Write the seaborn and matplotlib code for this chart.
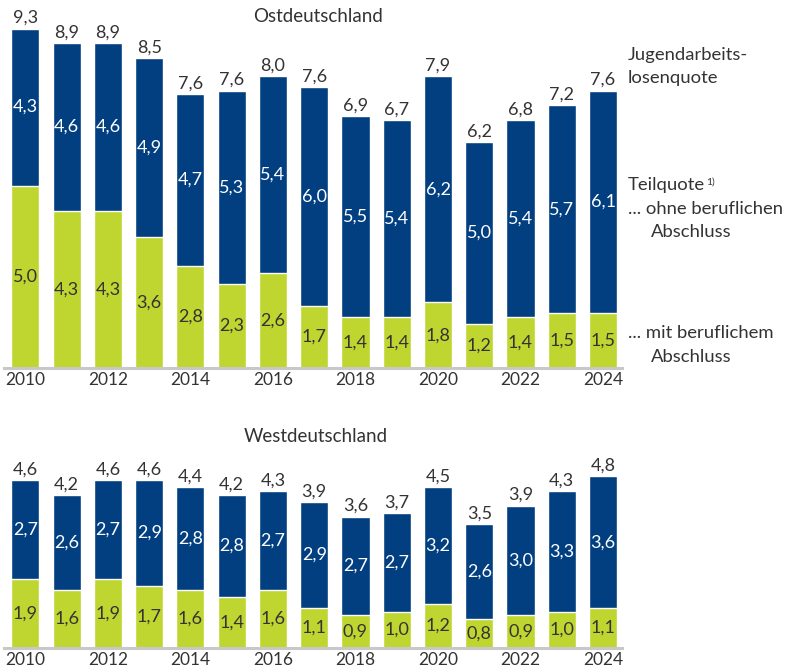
import numpy as np
import pandas as pd
import matplotlib
matplotlib.use("Agg")
import matplotlib.pyplot as plt
import seaborn as sns

# --- DATA ---
years = list(range(2010, 2025))
tick_years = [2010, 2012, 2014, 2016, 2018, 2020, 2022, 2024]

east_mit = [5.0, 4.3, 4.3, 3.6, 2.8, 2.3, 2.6, 1.7, 1.4, 1.4, 1.8, 1.2, 1.4, 1.5, 1.5]
east_ohne = [4.3, 4.6, 4.6, 4.9, 4.7, 5.3, 5.4, 6.0, 5.5, 5.4, 6.2, 5.0, 5.4, 5.7, 6.1]
east_total = [9.3, 8.9, 8.9, 8.5, 7.6, 7.6, 8.0, 7.6, 6.9, 6.7, 7.9, 6.2, 6.8, 7.2, 7.6]

west_mit = [1.9, 1.6, 1.9, 1.7, 1.6, 1.4, 1.6, 1.1, 0.9, 1.0, 1.2, 0.8, 0.9, 1.0, 1.1]
west_ohne = [2.7, 2.6, 2.7, 2.9, 2.8, 2.8, 2.7, 2.9, 2.7, 2.7, 3.2, 2.6, 3.0, 3.3, 3.6]
west_total = [4.6, 4.2, 4.6, 4.6, 4.4, 4.2, 4.3, 3.9, 3.6, 3.7, 4.5, 3.5, 3.9, 4.3, 4.8]

BLUE = "#023f80"
GREEN = "#bfd630"
DARK = "#333333"
GRID = "#c8c8c8"

sns.set_style("white")
plt.rcParams['font.family'] = ['Lato', 'DejaVu Sans']

W, H = 791, 669
fig = plt.figure(figsize=(W / 100, H / 100), dpi=100)

PX = 36.5  # pixels per unit
VAL_FS = 13


def fmt(v):
    return f"{v:.1f}".replace(".", ",")


def draw_panel(ax, mit, ohne, total, ymax):
    df = pd.DataFrame({"Jahr": [str(y) for y in years],
                       "mit": mit, "ohne": ohne, "total": total})
    df["stack"] = df["mit"] + df["ohne"]
    sns.barplot(data=df, x="Jahr", y="stack", color=BLUE, width=0.68,
                saturation=1, ax=ax)
    sns.barplot(data=df, x="Jahr", y="mit", color=GREEN, width=0.68,
                saturation=1, ax=ax)
    for i, row in df.iterrows():
        ax.text(i, row["mit"] / 2, fmt(row["mit"]), ha="center", va="center",
                fontsize=VAL_FS, color=DARK)
        ax.text(i, row["mit"] + row["ohne"] / 2, fmt(row["ohne"]), ha="center",
                va="center", fontsize=VAL_FS, color="white")
        ax.text(i, row["stack"] + 0.07, fmt(row["total"]), ha="center",
                va="bottom", fontsize=VAL_FS, color=DARK)
    ax.set_xlim(-0.52, 14.46)
    ax.set_ylim(0, ymax)
    ax.set_xticks([years.index(y) for y in tick_years])
    ax.set_xticklabels([str(y) for y in tick_years], fontsize=12.5, color=DARK)
    ax.tick_params(axis="x", length=0, pad=3)
    ax.set_yticks([])
    ax.set_xlabel("")
    ax.set_ylabel("")
    for s in ["top", "right", "left"]:
        ax.spines[s].set_visible(False)
    ax.spines["bottom"].set_color(GRID)
    ax.spines["bottom"].set_linewidth(2.2)


# top panel (Ostdeutschland)
left = 4 / W
width = 618 / W
ax1 = fig.add_axes([left, 1 - 368 / H, width, 10 * PX / H])
draw_panel(ax1, east_mit, east_ohne, east_total, 10)

# bottom panel (Westdeutschland)
ax2 = fig.add_axes([left, 1 - 648 / H, width, 5.2 * PX / H])
draw_panel(ax2, west_mit, west_ohne, west_total, 5.2)

# titles
fig.text(318 / W, 1 - 17 / H, "Ostdeutschland", ha="center", va="center",
         fontsize=13.5, color=DARK)
fig.text(316 / W, 1 - 436 / H, "Westdeutschland", ha="center", va="center",
         fontsize=13.5, color=DARK)

# legend text on the right
lx = 628 / W
fs = 13.3
fig.text(lx, 1 - 55 / H, "Jugendarbeits-", ha="left", va="center", fontsize=fs, color=DARK)
fig.text(lx, 1 - 78 / H, "losenquote", ha="left", va="center", fontsize=fs, color=DARK)
t = fig.text(lx, 1 - 185 / H, "Teilquote", ha="left", va="center", fontsize=fs, color=DARK)
ax1.annotate("1)", xy=(1.0, 1.0), xycoords=t, ha="left", va="top",
             fontsize=7.5, color=DARK, xytext=(0.8, -0.5), textcoords="offset points",
             annotation_clip=False)
fig.text(lx, 1 - 209 / H, "... ohne beruflichen", ha="left", va="center", fontsize=fs, color=DARK)
fig.text(651 / W, 1 - 232 / H, "Abschluss", ha="left", va="center", fontsize=fs, color=DARK)
fig.text(lx, 1 - 333 / H, "... mit beruflichem", ha="left", va="center", fontsize=fs, color=DARK)
fig.text(651 / W, 1 - 357 / H, "Abschluss", ha="left", va="center", fontsize=fs, color=DARK)

fig.savefig("out.png", dpi=100)
